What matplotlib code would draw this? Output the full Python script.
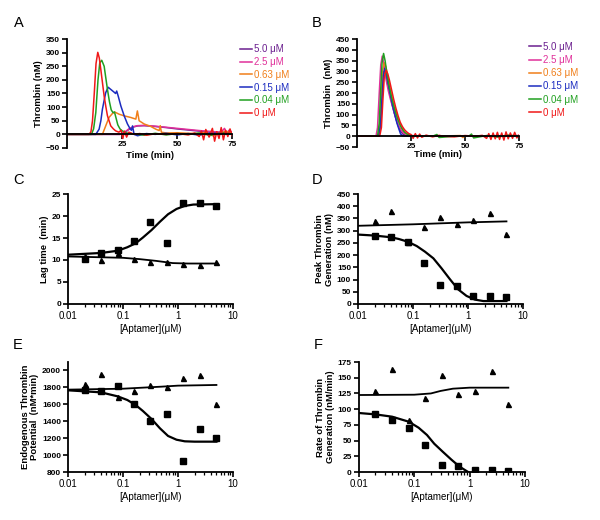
import matplotlib
matplotlib.use("Agg")
import matplotlib.pyplot as plt

plt.rcParams['font.family'] = ['Liberation Sans', 'DejaVu Sans']

# ---- panel A / B: thrombin generation traces (time in min, thrombin in nM) ----
conc_labels = ["5.0 \u03bcM", "2.5 \u03bcM", "0.63 \u03bcM", "0.15 \u03bcM", "0.04 \u03bcM", "0 \u03bcM"]
trace_colors = ["#6b1f8f", "#e0309a", "#f07f1a", "#1c2cc0", "#20a020", "#f01818"]

a_purple_t = [0, 24, 26, 28, 30, 32, 35, 40, 45, 50, 55, 60, 65, 70, 75]
a_purple_v = [0, 0, 6, 18, 27, 31, 32, 29, 25, 20, 16, 12, 9, 7, 6]
a_magenta_t = [0, 24, 26, 28, 30, 32, 35, 40, 45, 50, 55, 60, 65, 70, 71.5, 72.5, 73.5, 75]
a_magenta_v = [0, 0, 7, 20, 28, 32, 33, 30, 26, 22, 18, 14, 11, 8, 22, 4, 15, 8]
a_orange_t = [0, 16, 17.5, 19, 20.5, 21.6, 23.6, 25.9, 28.9, 31.2, 31.9, 32.7, 35, 38, 40.3,
              41.8, 42.3, 42.8, 45, 50, 55, 60, 63, 66, 70, 72, 75]
a_orange_v = [0, 0, 31, 62, 76, 82, 74, 68, 62, 56, 86, 50, 38, 29, 19, 14, 32, 8, 5, 6, 4, 3,
              8, -5, 5, 12, 3]
a_blue_t = [0, 13, 14.5, 15.3, 16, 16.8, 17.5, 18.6, 19.8, 21.3, 22, 22.5, 23.2, 24.4, 25.9,
            27.4, 28.5, 29.2, 29.7, 30.4, 32, 36, 40, 45, 50, 55, 60, 65, 70, 75]
a_blue_v = [0, 0, 19, 50, 92, 125, 153, 173, 165, 155, 150, 159, 140, 104, 68, 38, 22, 15, 31,
            0, -5, 3, 0, 4, -2, 3, -3, 5, 2, 0]
a_green_t = [0, 11, 12, 13, 14, 14.8, 15.7, 16.8, 17.5, 18.3, 19.2, 20, 20.8, 21.5, 22.2, 23,
             24, 25, 27, 30, 35, 40, 45, 50, 55, 60, 65, 70, 75]
a_green_v = [0, 0, 20, 80, 200, 262, 272, 250, 210, 165, 120, 90, 80, 82, 60, 35, 20, 13, 5, 2,
             -3, 4, -2, 3, 0, 5, -4, 6, 2]
a_red_t = [0, 10, 10.8, 11.5, 12.3, 13.1, 13.9, 14.6, 15.3, 16.1, 16.8, 17.6, 18.3, 19.8, 21,
           22, 23.5, 24.5, 25.3, 26, 27, 28, 29, 30.5, 33, 36, 40, 45, 50, 55, 58, 60, 61, 62,
           63, 64.5, 66, 67, 68, 69, 70, 71, 72, 73, 74, 75]
a_red_v = [0, 0, 10, 50, 150, 260, 301, 280, 237, 185, 140, 100, 68, 31, 20, 13, 8, 15, -15, 12,
           -10, 8, 5, 0, 3, -3, 2, 0, 3, -2, 5, -8, 12, -20, 18, -10, 22, -25, 10, -15, 25, -20,
           15, -8, 20, -5]

b_purple_t = [0, 10.2, 11, 11.8, 12.4, 13.2, 14.2, 15.2, 16.2, 17.2, 18.2, 19.2, 20.2, 21.5, 23, 30, 45, 60, 75]
b_purple_v = [0, 0, 60, 210, 300, 290, 240, 195, 150, 110, 75, 45, 22, 8, 2, 0, 2, 0, 3]
b_magenta_t = [0, 8.8, 9.5, 10.3, 11, 11.7, 12.5, 13.5, 14.5, 15.5, 16.5, 17.5, 18.5, 19.5, 20.5,
               21.5, 23, 25, 40, 60, 75]
b_magenta_v = [0, 0, 40, 200, 330, 371, 330, 260, 210, 170, 135, 100, 70, 45, 28, 15, 8, 3, 0, 2, 0]
b_orange_t = [0, 9.8, 10.6, 11.3, 12, 12.6, 13.4, 14.4, 15.4, 16.4, 17.4, 18.4, 19.4, 20.4, 21.4,
              22.5, 24, 26, 35, 48, 49, 50, 60, 75]
b_orange_v = [0, 0, 60, 200, 310, 340, 320, 270, 220, 175, 135, 100, 70, 45, 28, 15, 6, 2, 0, 3, -6, 2, 0, 2]
b_blue_t = [0, 10, 10.8, 11.6, 12.2, 12.8, 13.5, 14.5, 15.5, 16.5, 17.5, 18.5, 19.5, 20.2, 21, 22, 40, 75]
b_blue_v = [0, 0, 50, 180, 280, 314, 290, 240, 190, 140, 100, 60, 30, 10, 3, 0, 0, 0]
b_green_t = [0, 9.5, 10.3, 11, 11.6, 12.3, 13, 14, 15, 16, 17, 18, 19, 20, 21, 22, 23.5, 25, 35,
             37, 38, 45, 52, 53, 54, 60, 65, 70, 75]
b_green_v = [0, 0, 60, 220, 340, 383, 350, 280, 225, 180, 140, 105, 75, 50, 32, 18, 8, 2, 0, 8,
             -6, 0, 2, 10, -8, 3, -4, 5, 0]
b_red_t = [0, 10.5, 11.3, 12, 12.6, 13.4, 14.2, 15, 16, 17, 18, 19, 20, 21, 22, 23, 24, 25, 26,
           27, 28, 29, 30, 32, 35, 38, 40, 45, 50, 55, 58, 60, 61, 62, 63, 64, 65, 66, 67, 68,
           69, 70, 71, 72, 73, 74, 75]
b_red_v = [0, 0, 40, 170, 270, 306, 290, 260, 215, 170, 130, 95, 65, 45, 30, 20, 12, 8, -10, 12,
           -8, 10, -5, 5, -3, 4, 0, -3, 3, 0, 4, -10, 12, -15, 15, -12, 18, -15, 15, -18, 20,
           -12, 15, -10, 18, -8, 5]

# ---- panels C-F: aptamer dose (uM) ----
dose = [0.02, 0.04, 0.08, 0.156, 0.3125, 0.625, 1.25, 2.5, 5.0]

c_sq = [10.3, 11.7, 12.3, 14.3, 18.7, 13.9, 23.0, 23.0, 22.3]
c_tri = [10.8, 9.9, 11.5, 10.3, 9.6, 9.5, 9.2, 8.9, 9.5]
c_sq_fit_x = [0.01, 0.04, 0.08, 0.12, 0.17, 0.23, 0.33, 0.47, 0.66, 0.94, 1.33, 1.9, 5.0]
c_sq_fit_y = [11.2, 11.6, 12.1, 12.9, 13.8, 15.1, 16.8, 18.7, 20.4, 21.6, 22.3, 22.6, 22.7]
c_tri_fit_x = [0.01, 0.1, 0.2, 0.4, 0.8, 1.5, 5.0]
c_tri_fit_y = [10.8, 10.5, 10.2, 9.8, 9.3, 9.2, 9.2]

d_sq = [278, 273, 255, 168, 78, 75, 34, 33, 29]
d_tri = [341, 382, 255, 314, 356, 329, 345, 372, 286]
d_sq_fit_x = [0.01, 0.02, 0.04, 0.055, 0.08, 0.117, 0.165, 0.234, 0.33, 0.47, 0.66, 0.94, 1.33, 1.9, 5.0]
d_sq_fit_y = [284, 280, 273, 266, 255, 237, 214, 187, 146, 101, 60, 33, 18, 12, 12]
d_tri_fit_x = [0.01, 0.1, 1.0, 5.0]
d_tri_fit_y = [320, 326, 334, 338]

e_sq = [1761, 1757, 1812, 1596, 1400, 1478, 925, 1310, 1200]
e_tri = [1831, 1957, 1680, 1757, 1824, 1800, 1902, 1941, 1596]
e_sq_fit_x = [0.01, 0.04, 0.08, 0.12, 0.17, 0.23, 0.33, 0.47, 0.66, 0.94, 1.33, 2.0, 5.0]
e_sq_fit_y = [1761, 1737, 1690, 1647, 1588, 1518, 1424, 1314, 1224, 1180, 1161, 1157, 1157]
e_tri_fit_x = [0.01, 0.1, 0.5, 1.0, 5.0]
e_tri_fit_y = [1769, 1780, 1804, 1816, 1824]

f_sq = [92.8, 82.2, 70.0, 43.0, 11.1, 9.0, 3.2, 3.2, 2.1]
f_tri = [128.9, 163.9, 82.2, 118.0, 153.8, 124.6, 128.9, 160.7, 108.2]
f_sq_fit_x = [0.01, 0.02, 0.04, 0.08, 0.12, 0.17, 0.23, 0.33, 0.47, 0.66, 0.94]
f_sq_fit_y = [93.9, 91.7, 88.0, 80.0, 70.5, 58.9, 45.0, 32.0, 19.6, 8.5, 0.0]
f_tri_fit_x = [0.01, 0.1, 0.2, 0.3, 0.5, 1.0, 5.0]
f_tri_fit_y = [122.5, 123.0, 125.0, 129.0, 132.6, 134.2, 134.2]

W, H = 600.0, 520.0
fig = plt.figure(figsize=(6.0, 5.2), dpi=100)

def letter(ch, x, y):
    fig.text(x / W, 1 - y / H, ch, fontsize=10.5, ha='center', va='center')

def style_common(ax):
    ax.spines['top'].set_visible(False)
    ax.spines['right'].set_visible(False)
    for s in ('left', 'bottom'):
        ax.spines[s].set_linewidth(1.3)
    ax.tick_params(direction='out', width=1.2, length=3.5, labelsize=6.0, pad=1.5)
    for lab in ax.get_yticklabels():
        lab.set_fontweight('bold')

def trace_panel(rect, traces, ymax, ylabel, legend_xy, spacing):
    ax = fig.add_axes(rect)
    for (t, v), col, lab in zip(traces, trace_colors, conc_labels):
        ax.plot(t, v, color=col, lw=1.1, label=lab)
    ax.set_xlim(0, 75)
    ax.set_ylim(-50, ymax)
    ax.set_yticks(range(-50, ymax + 1, 50))
    ax.set_xticks([25, 50, 75])
    ax.spines['bottom'].set_position(('data', 0))
    style_common(ax)
    for lab in ax.get_xticklabels():
        lab.set_fontweight('bold')
    ax.set_ylabel(ylabel, fontsize=6.8, fontweight='bold', labelpad=2)
    ax.set_xlabel("Time (min)", fontsize=6.8, fontweight='bold')
    ax.xaxis.set_label_coords(0.5, -0.025)
    ax.legend(loc='upper left', bbox_to_anchor=legend_xy, frameon=False,
              fontsize=7, handlelength=1.3, handletextpad=0.15,
              labelspacing=spacing, borderpad=0, labelcolor='linecolor')
    return ax

trace_panel([0.112, 0.7154, 0.275, 0.2096],
            [(a_purple_t, a_purple_v), (a_magenta_t, a_magenta_v), (a_orange_t, a_orange_v),
             (a_blue_t, a_blue_v), (a_green_t, a_green_v), (a_red_t, a_red_v)],
            350, "Thrombin (nM)", (1.015, 0.995), 0.28)
trace_panel([0.595, 0.7173, 0.27, 0.2077],
            [(b_purple_t, b_purple_v), (b_magenta_t, b_magenta_v), (b_orange_t, b_orange_v),
             (b_blue_t, b_blue_v), (b_green_t, b_green_v), (b_red_t, b_red_v)],
            450, "Thrombin  (nM)", (1.03, 1.02), 0.33)

def dose_panel(rect, sq, tri, sqfit, trifit, ylim, yticks, ylabel):
    ax = fig.add_axes(rect)
    ax.set_xscale('log')
    ax.plot(sqfit[0], sqfit[1], color='black', lw=1.6)
    ax.plot(trifit[0], trifit[1], color='black', lw=1.3)
    ax.plot(dose, sq, 's', color='black', ms=3.7, ls='none')
    ax.plot(dose, tri, '^', color='black', ms=3.6, ls='none')
    ax.set_xlim(0.01, 10)
    ax.set_ylim(*ylim)
    ax.set_yticks(yticks)
    ax.set_xticks([0.01, 0.1, 1, 10], labels=["0.01", "0.1", "1", "10"])
    style_common(ax)
    ax.tick_params(axis='x', which='major', labelsize=7)
    ax.tick_params(which='minor', direction='out', length=2, width=0.9)
    ax.set_ylabel(ylabel, fontsize=6.8, fontweight='bold', labelpad=2, linespacing=1.1)
    ax.set_xlabel("[Aptamer](\u03bcM)", fontsize=7, labelpad=2.5)
    return ax

dose_panel([0.1133, 0.4154, 0.275, 0.2115], c_sq, c_tri, (c_sq_fit_x, c_sq_fit_y),
           (c_tri_fit_x, c_tri_fit_y), (0, 25), range(0, 26, 5), "Lag time  (min)")
dose_panel([0.5967, 0.4154, 0.275, 0.2115], d_sq, d_tri, (d_sq_fit_x, d_sq_fit_y),
           (d_tri_fit_x, d_tri_fit_y), (0, 450), range(0, 451, 50),
           "Peak Thrombin\nGeneration (nM)")
dose_panel([0.1133, 0.0923, 0.275, 0.2125], e_sq, e_tri, (e_sq_fit_x, e_sq_fit_y),
           (e_tri_fit_x, e_tri_fit_y), (800, 2100), range(800, 2001, 200),
           "Endogenous Thrombin\nPotential  (nM*min)")
dose_panel([0.598, 0.0923, 0.277, 0.2115], f_sq, f_tri, (f_sq_fit_x, f_sq_fit_y),
           (f_tri_fit_x, f_tri_fit_y), (0, 175), range(0, 176, 25),
           "Rate of Thrombin\nGeneration (nM/min)")

letter("A", 19, 23)
letter("B", 317, 23)
letter("C", 18, 180)
letter("D", 317, 180)
letter("E", 18, 345)
letter("F", 318, 345)

fig.savefig("out.png", dpi=100)
